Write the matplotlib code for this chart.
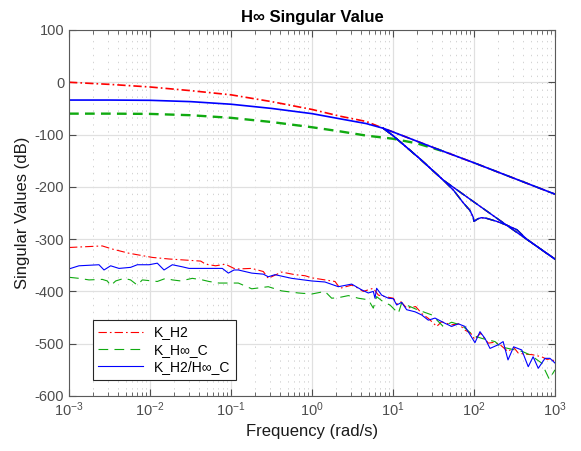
import numpy as np
import matplotlib
matplotlib.use("Agg")
import matplotlib.pyplot as plt
from matplotlib.ticker import FixedLocator, NullFormatter, LogFormatterSciNotation

plt.rcParams['font.family'] = ['Liberation Sans', 'DejaVu Sans']
plt.rcParams['mathtext.fontset'] = 'custom'
plt.rcParams['mathtext.rm'] = 'Liberation Sans'
plt.rcParams['axes.unicode_minus'] = False
plt.rcParams['lines.scale_dashes'] = False

# ---- upper singular values (log10 of frequency, dB) ----
red_up_lf = [-3.0, -2.5, -2.0, -1.5, -1.0, -0.5, 0.0, 0.35, 0.67, 0.88]
red_up_db = [0, -4, -9, -16, -24, -37, -52, -65, -75, -88]
blue_up_lf = [-3.0, -2.5, -2.0, -1.5, -1.0, -0.5, 0.0, 0.35, 0.67, 0.88]
blue_up_db = [-34, -34, -34.5, -37, -42, -50, -60, -70, -79, -88]
green_up_lf = [-3.0, -2.5, -2.0, -1.5, -1.0, -0.5, 0.0, 0.35, 0.67, 1.0, 1.3, 1.6]
green_up_db = [-60, -60, -60.5, -63, -68, -76, -86, -94, -102, -108, -117, -131]

# common high frequency branches
hi_lf = [0.88, 1.0, 1.5, 2.0, 2.5, 3.0]
hi_db = [-88, -95, -125, -154, -184, -214]
steep_lf = [0.88, 1.0, 1.33, 1.62, 2.0, 2.5, 3.0]
steep_db = [-88, -102, -146, -187, -229, -284, -338]
dip_lf = [0.88, 1.0, 1.33, 1.62, 1.75, 1.87, 1.95, 1.99, 2.0, 2.05, 2.09,
          2.15, 2.28, 2.4, 2.53, 2.65, 3.0]
dip_db = [-88, -102, -146, -187, -207, -231, -245, -258, -266, -261, -259,
          -260, -266, -273, -282, -300, -338.5]

# ---- lower (noisy) singular values ----
red_lo_lf = [-3.0, -2.59, -2.465, -2.26, -1.97, -1.765, -1.374, -1.313, -1.19, -1.07,
             -0.963, -0.91, -0.744, -0.601, -0.54, -0.375, -0.21, -0.086, -0.004, 0.16,
             0.284, 0.346, 0.49, 0.572, 0.633, 0.695, 0.757, 0.819, 0.9, 1.004,
             1.05, 1.1, 1.17, 1.28, 1.36, 1.44, 1.54, 1.60, 1.72, 1.81,
             1.889, 1.96, 2.01, 2.08, 2.177, 2.26, 2.33, 2.42, 2.49, 2.547,
             2.63, 2.72, 2.835, 2.9, 2.95, 3.0]
red_lo_db = [-316, -313, -319, -327, -335, -338, -342, -348, -351, -348,
             -356, -357, -356, -362, -375, -363, -368, -370, -374, -378,
             -381, -394, -388, -394, -400, -397, -394, -407, -410, -413,
             -424, -420, -432, -429, -443, -452, -467, -458, -464, -462,
             -474, -480, -492, -480, -499, -497, -503, -515, -507, -518,
             -520, -521, -525, -530, -529, -534]

blue_lo_lf = [-3.0, -2.877, -2.63, -2.568, -2.486, -2.383, -2.24, -2.157, -2.012, -1.91,
              -1.827, -1.724, -1.6, -1.518, -1.19, -1.107, -1.033, -0.963, -0.91, -0.744,
              -0.601, -0.54, -0.457, -0.251, -0.004, 0.16, 0.325, 0.49, 0.613, 0.695,
              0.757, 0.778, 0.798, 0.86, 0.942, 1.004, 1.046, 1.107, 1.169, 1.272,
              1.354, 1.436, 1.519, 1.642, 1.724, 1.807, 1.889, 2.012, 2.074, 2.136,
              2.198, 2.3, 2.36, 2.42, 2.49, 2.59, 2.67, 2.73, 2.794, 2.877,
              2.938, 3.0]
blue_lo_db = [-357, -351, -349, -359, -351, -356, -354, -349, -349, -346,
              -359, -349, -353, -356, -356, -356, -365, -359, -359, -365,
              -367, -372, -368, -375, -380, -382, -391, -386, -397, -403,
              -400, -413, -394, -407, -413, -414, -426, -421, -435, -439,
              -445, -455, -451, -461, -467, -462, -467, -498, -477, -490,
              -509, -502, -496, -531, -506, -512, -544, -525, -547, -528,
              -528, -537]

green_lo_lf = [-3.0, -2.877, -2.753, -2.589, -2.527, -2.486, -2.424, -2.32, -2.24, -2.157,
               -2.095, -1.91, -1.806, -1.724, -1.62, -1.478, -1.354, -1.272, -1.148, -0.984,
               -0.91, -0.744, -0.54, -0.375, -0.169, -0.004, 0.16, 0.243, 0.325, 0.449,
               0.572, 0.695, 0.757, 0.798, 0.88, 0.963, 1.066, 1.107, 1.30, 1.48,
               1.62, 1.724, 1.85, 2.0, 2.1, 2.26, 2.33, 2.45, 2.6, 2.7,
               2.835, 2.93, 3.0]
green_lo_db = [-373, -375, -378, -377, -380, -389, -380, -375, -378, -388,
               -378, -381, -375, -378, -380, -375, -378, -381, -384, -384,
               -384, -395, -391, -399, -403, -405, -400, -413, -412, -408,
               -413, -416, -432, -410, -420, -426, -442, -422, -435, -445,
               -467, -459, -465, -485, -490, -496, -506, -510, -515, -522,
               -537, -568, -550]

labels = ['K_H2', 'K_H\u221e_C', 'K_H2/H\u221e_C']
x_ticks = [1e-3, 1e-2, 1e-1, 1e0, 1e1, 1e2, 1e3]
y_ticks = [-600, -500, -400, -300, -200, -100, 0, 100]

red = '#ff0000'
green = '#10aa10'
blue = '#0000ff'
ls_red = (0, (6, 2.2, 1.2, 2.2))
ls_green = (0, (7, 4.5))

fig = plt.figure(figsize=(5.81, 4.51), dpi=100)
ax = fig.add_axes([0.1188, 0.1220, 0.8364, 0.8115])

def w(lf):
    return 10.0 ** np.array(lf)

# upper curves
for col, ls, lw, up_lf, up_db in [(red, ls_red, 1.2, red_up_lf, red_up_db),
                                   (green, ls_green, 1.7, green_up_lf, green_up_db),
                                   (blue, '-', 1.2, blue_up_lf, blue_up_db)]:
    if col == green:
        ax.plot(w(up_lf), up_db, color=col, ls=ls, lw=lw)
        ax.plot(w(hi_lf[3:]), hi_db[3:], color=col, ls=ls, lw=1.0)
    else:
        ax.plot(w(up_lf + hi_lf[1:]), up_db + hi_db[1:], color=col, ls=ls, lw=lw)
    ax.plot(w(steep_lf), steep_db, color=col, ls=ls, lw=1.0)
    ax.plot(w(dip_lf), dip_db, color=col, ls=ls, lw=1.0)

# lower curves
l1, = ax.plot(w(red_lo_lf), red_lo_db, color=red, ls=ls_red, lw=0.8)
l2, = ax.plot(w(green_lo_lf), green_lo_db, color=green, ls=ls_green, lw=0.8)
l3, = ax.plot(w(blue_lo_lf), blue_lo_db, color=blue, ls='-', lw=0.8)

ax.set_xscale('log')
ax.set_xlim(1e-3, 1e3)
ax.set_ylim(-600, 100)
ax.yaxis.set_major_locator(FixedLocator(y_ticks))
ax.xaxis.set_major_locator(FixedLocator(x_ticks))
ax.xaxis.set_major_formatter(LogFormatterSciNotation())
minor = [m * t for t in x_ticks[:-1] for m in range(2, 10)]
ax.xaxis.set_minor_locator(FixedLocator(minor))
ax.xaxis.set_minor_formatter(NullFormatter())

ax.set_axisbelow(True)
ax.grid(True, which='major', color='#e0e0e0', lw=0.9, ls='-')
ax.grid(True, which='minor', axis='x', color='#cccccc', lw=0.6, ls=(0, (1, 4)))

ax.tick_params(which='both', direction='in', top=True, right=True,
               colors='#4d4d4d', labelsize=10.5)
ax.tick_params(which='major', length=5, width=0.8)
ax.tick_params(which='minor', length=3, width=0.6)
for s in ax.spines.values():
    s.set_color('#5a5a5a')
    s.set_linewidth(0.8)

ax.set_xlabel('Frequency (rad/s)', fontsize=12, color='#1a1a1a', labelpad=3)
ax.set_ylabel('Singular Values (dB)', fontsize=12, color='#1a1a1a', labelpad=3)
ax.set_title('H\u221e Singular Value', fontsize=12, fontweight='bold', pad=6)

leg = ax.legend([l1, l2, l3], labels, loc='lower left', bbox_to_anchor=(0.049, 0.044),
                borderaxespad=0, fontsize=10, handlelength=3.2, fancybox=False,
                framealpha=1, edgecolor='#262626', labelspacing=0.25)
leg.get_frame().set_linewidth(0.8)

fig.savefig('out.png', dpi=100)
